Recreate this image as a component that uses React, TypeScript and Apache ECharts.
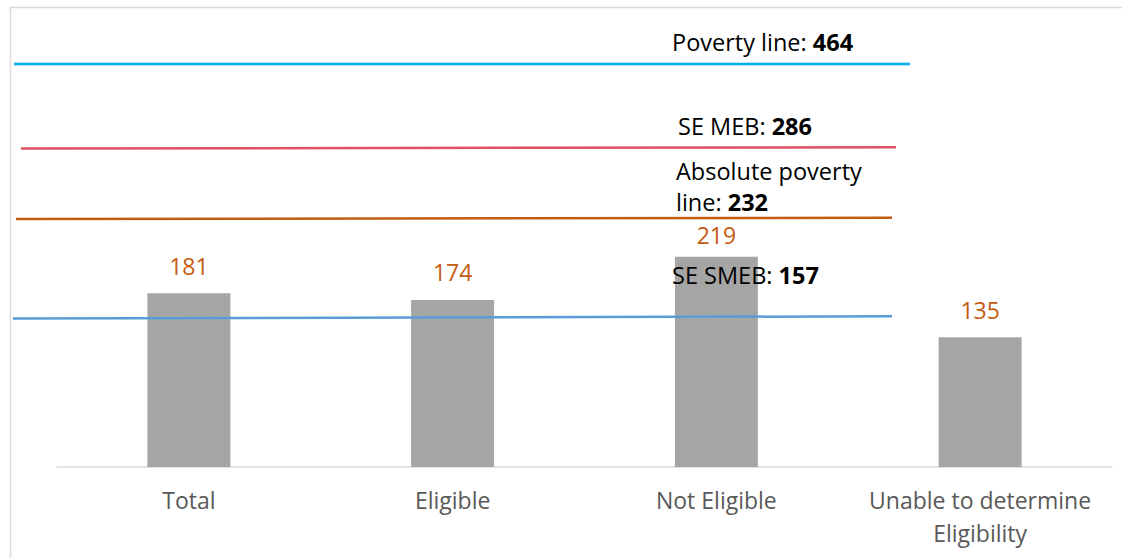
import React, { useEffect, useRef } from "react";
import * as echarts from "echarts";

const categories = ["Total", "Eligible", "Not Eligible", "Unable to determine\nEligibility"];
const spending = [181, 174, 219, 135];
const refLineNames = ["Poverty line", "SE MEB", "Absolute poverty\nline", "SE SMEB"];
const refLineValues = [464, 286, 232, 157];
const refLineColors = ["#00B0F0", "#DF5163", "#C55A11", "#5B9BD5"];

export default function App() {
  const ref = useRef<HTMLDivElement>(null);
  useEffect(() => {
    if (!ref.current) return;
    const chart = echarts.init(ref.current, undefined, { renderer: "svg" });
    const FONT = "Open Sans";

    // annotation placement (drawn shapes in the original)
    const lineGeom = [
      { x1: 14, y1: 64, x2: 910, y2: 64, lx: 672, ly: 42, lh: 31 },
      { x1: 21, y1: 148.5, x2: 896, y2: 147.3, lx: 678, ly: 126, lh: 31 },
      { x1: 16, y1: 219, x2: 892, y2: 217.7, lx: 676, ly: 186.5, lh: 31 },
      { x1: 13, y1: 318.5, x2: 892, y2: 316.3, lx: 672, ly: 275, lh: 31 },
    ];

    const graphics: any[] = [
      {
        type: "rect",
        shape: { x: 10.5, y: 7.5, width: 1200, height: 700 },
        style: { fill: "none", stroke: "#D9D9D9", lineWidth: 1.5 },
        silent: true,
        z: 0,
      },
    ];
    refLineNames.forEach((name, i) => {
      const g = lineGeom[i];
      graphics.push({
        type: "line",
        shape: { x1: g.x1, y1: g.y1, x2: g.x2, y2: g.y2 },
        style: { stroke: refLineColors[i], lineWidth: 2.5 },
        z: 10,
      });
      const parts = name.split("\n");
      const txt =
        parts.slice(0, -1).map((p) => `{n|${p}}`).join("\n") +
        (parts.length > 1 ? "\n" : "") +
        `{n|${parts[parts.length - 1]}: }{v|${refLineValues[i]}}`;
      graphics.push({
        type: "text",
        x: g.lx,
        y: g.ly,
        z: 11,
        style: {
          text: txt,
          verticalAlign: "middle",
          align: "left",
          rich: {
            n: { fontFamily: FONT, fontSize: 23.5, color: "#1a1a1a", lineHeight: g.lh },
            v: { fontFamily: FONT, fontSize: 23.5, fontWeight: "bold", color: "#000", lineHeight: g.lh },
          },
        },
      });
    });

    const labelDistances = [16, 16, 10, 16];

    chart.setOption({
      animation: false,
      backgroundColor: "#fff",
      grid: { left: 57, right: 10, top: 6, bottom: 558 - 467 },
      xAxis: {
        type: "category",
        data: categories,
        axisLine: { show: true, lineStyle: { color: "#D9D9D9", width: 1.5 } },
        axisTick: { show: false },
        axisLabel: {
          fontFamily: FONT,
          fontSize: 23,
          color: "#595959",
          lineHeight: 33,
          margin: 16,
          interval: 0,
        },
      },
      yAxis: {
        type: "value",
        min: 0,
        max: 480,
        show: false,
        splitLine: { show: false },
      },
      series: [
        {
          type: "bar",
          data: spending.map((v, i) => ({ value: v, label: { distance: labelDistances[i] } })),
          barWidth: 83,
          itemStyle: { color: "#A5A5A5" },
          label: {
            show: true,
            position: "top",
            fontFamily: FONT,
            fontSize: 23,
            color: "#C55A11",
          },
          z: 2,
        },
      ],
      graphic: graphics,
    });
    return () => chart.dispose();
  }, []);
  return (
    <div
      ref={ref}
      style={{ position: "fixed", left: 0, top: 0, width: 1122, height: 558, background: "#fff" }}
    />
  );
}
